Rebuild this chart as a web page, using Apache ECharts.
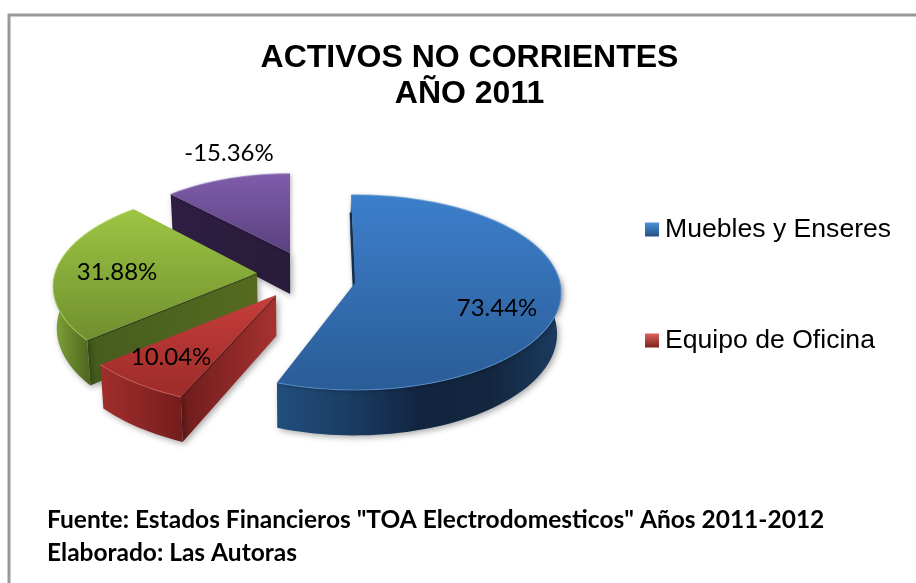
<!DOCTYPE html>
<html><head><meta charset="utf-8">
<style>html,body{margin:0;padding:0;background:#fff}#c{width:916px;height:583px}</style>
<script src="https://cdn.jsdelivr.net/npm/echarts@6/dist/echarts.min.js"></script>
</head><body><div id="c"></div>
<script>
const categories = ['Muebles y Enseres','Equipo de Oficina','Activo 3','Activo 4'];
const shownLegend = ['Muebles y Enseres','Equipo de Oficina'];
const percents = [73.44, 10.04, 31.88, -15.36];
const titleLines = ['ACTIVOS NO CORRIENTES','AÑO 2011'];
const footerLines = ['Fuente: Estados Financieros "TOA Electrodomesticos" Años 2011-2012','Elaborado: Las Autoras'];

const RX=205, RY=96.6, DEPTH=41, VX=300, VS=0.015;
// per-slice explosion offset (apex), scale and small perspective corrections
const layout = [
 {ax:355,ay:283,sc:1.0,  k:0.097,da0:-1.2,da1:-2, lx:497,ly:308},
 {ax:276,ay:295,sc:1.05, k:0.097,da0:1.5,da1:0, lx:171,ly:357},
 {ax:257,ay:273,sc:0.985,k:0.14, da0:0,da1:0, lx:117,ly:272},
 {ax:290,ay:253,sc:0.9,  k:0.097,da0:-1.5,da1:0, lx:229,ly:153}
];
const G = echarts.graphic.LinearGradient;
const vg=(a,b)=>new G(0,0,0,1,[{offset:0,color:a},{offset:1,color:b}]);
const hg=(...c)=>new G(0,0,1,0,c.map((x,i)=>({offset:i/(c.length-1),color:x})));
const skins = [
 {top:vg('#3d7fcb','#2a5c97'),outer:hg('#214e7d','#1a3d63','#122540','#13263f','#1c3b60'),start:hg('#1b3d63','#1b3d63'),edge:'#5c97d8'},
 {top:vg('#c63e3a','#9c2b29'),outer:hg('#a02e2c','#8b2625','#731d1c'),start:hg('#6e1d1c','#8a2726','#a63230'),edge:'#d96a66'},
 {top:vg('#9dc543','#6f8f2e'),outer:hg('#83a539','#66842b','#4d6420'),start:hg('#455c1c','#4d6420','#55691f'),edge:'#b4d665'},
 {top:vg('#7f5cab','#5c4180'),outer:hg('#2e1f42','#2e1f42'),start:hg('#2e1f42','#291b3b'),edge:'#9a7cc2'}
];
const total = percents.reduce((a,b)=>a+Math.abs(b),0);
const starts=[]; let acc=0;
percents.forEach(p=>{starts.push(acc); acc+=Math.abs(p)/total*360;});

function project(l,deg){
  const t=deg*Math.PI/180, u=Math.sin(t), v=-Math.cos(t), s=1/(1-l.k*v);
  return [l.ax+RX*l.sc*u*s, l.ay+RY*l.sc*v*s, s];
}
function down(p){ return [p[0]-(p[0]-VX)*VS, p[1]+DEPTH*p[2]]; }

function renderSlice(params,api){
  const i=api.value(0), pct=api.value(1);
  const l=layout[i], sk=skins[i];
  const a0=starts[i]+l.da0, a1=starts[i]+Math.abs(pct)/total*360+l.da1;
  const arc=[]; const n=Math.ceil((a1-a0)/2);
  for(let j=0;j<=n;j++) arc.push(a0+(a1-a0)*j/n);
  const apex=[l.ax,l.ay,1];
  const rim=arc.map(a=>project(l,a));
  const xy=p=>[p[0],p[1]];
  const topPts=[xy(apex),...rim.map(xy)];
  const front=arc.filter(a=>-Math.cos(a*Math.PI/180)>-0.12).map(a=>project(l,a));
  const kids=[];
  const shadow={shadowBlur:6,shadowColor:'rgba(0,0,0,0.35)',shadowOffsetX:2,shadowOffsetY:2};
  const st=project(l,a0);
  kids.push({type:'polygon',shape:{points:[xy(apex),xy(st),down(st),down(apex)]},style:{fill:sk.start,...shadow}});
  if(front.length>1){
    kids.push({type:'polygon',shape:{points:[...front.map(xy),...front.slice().reverse().map(down)]},style:{fill:sk.outer,...shadow}});
  }
  if(i===0){
    // thin dark strip showing the first slice's inner wall
    const f=0.8, mx=l.ax+(st[0]-l.ax)*f-1.2, my=l.ay+(st[1]-l.ay)*f;
    kids.push({type:'polyline',shape:{points:[[l.ax-0.6,l.ay],[mx,my]]},style:{fill:null,stroke:'#17304f',lineWidth:2,shadowBlur:3,shadowColor:'rgba(0,0,0,0.35)'}});
  }
  kids.push({type:'polygon',shape:{points:topPts},style:{fill:sk.top,shadowBlur:i===0||i===3?4:0,shadowColor:'rgba(0,0,0,0.3)',shadowOffsetX:1,shadowOffsetY:1}});
  kids.push({type:'polyline',shape:{points:rim.map(xy)},style:{fill:null,stroke:sk.edge,lineWidth:1.2,opacity:0.65}});
  kids.push({type:'text',z2:10,style:{text:pct.toFixed(2)+'%',x:l.lx,y:l.ly,align:'center',verticalAlign:'middle',fill:'#000',font:'400 24px Lato'}});
  return {type:'group',children:kids};
}

const order=[3,2,1,0];
const legendStyles={'Muebles y Enseres':vg('#4d92dc','#234f82'),'Equipo de Oficina':vg('#e0605b','#7c2321')};

const chart=echarts.init(document.getElementById('c'),null,{renderer:'canvas'});
chart.setOption({
  animation:false,
  backgroundColor:'#fff',
  title:{text:titleLines.join('\n'),left:464.5,top:35.5,textAlign:'center',
    textStyle:{fontFamily:'Liberation Sans',fontWeight:'bold',fontSize:32,lineHeight:36,color:'#000'}},
  legend:{orient:'vertical',left:640,top:211,itemWidth:14,itemHeight:14,itemGap:84,icon:'path://M0 0H10V10H0Z',
    textStyle:{fontFamily:'Liberation Sans',fontSize:26.6,color:'#000',padding:[0,0,0,1]},
    data:shownLegend.map(n=>({name:n,itemStyle:{color:legendStyles[n]}}))},
  series:order.map(i=>({
    type:'custom',name:categories[i],coordinateSystem:'none',silent:true,
    itemStyle:{color:i===0?'#3d7fcb':i===1?'#c63e3a':i===2?'#9dc543':'#7f5cab'},
    data:[[i,percents[i]]],
    renderItem:renderSlice
  })),
  graphic:[
    {type:'rect',z:-1,shape:{x:9,y:15,width:920,height:580},style:{fill:'none',stroke:'#999',lineWidth:3}},
    {type:'text',style:{text:footerLines[0],x:47,y:520,verticalAlign:'middle',font:'700 24.5px Lato',fill:'#000'}},
    {type:'text',style:{text:footerLines[1],x:47,y:553,verticalAlign:'middle',font:'700 24.5px Lato',fill:'#000'}}
  ]
});
</script></body></html>
